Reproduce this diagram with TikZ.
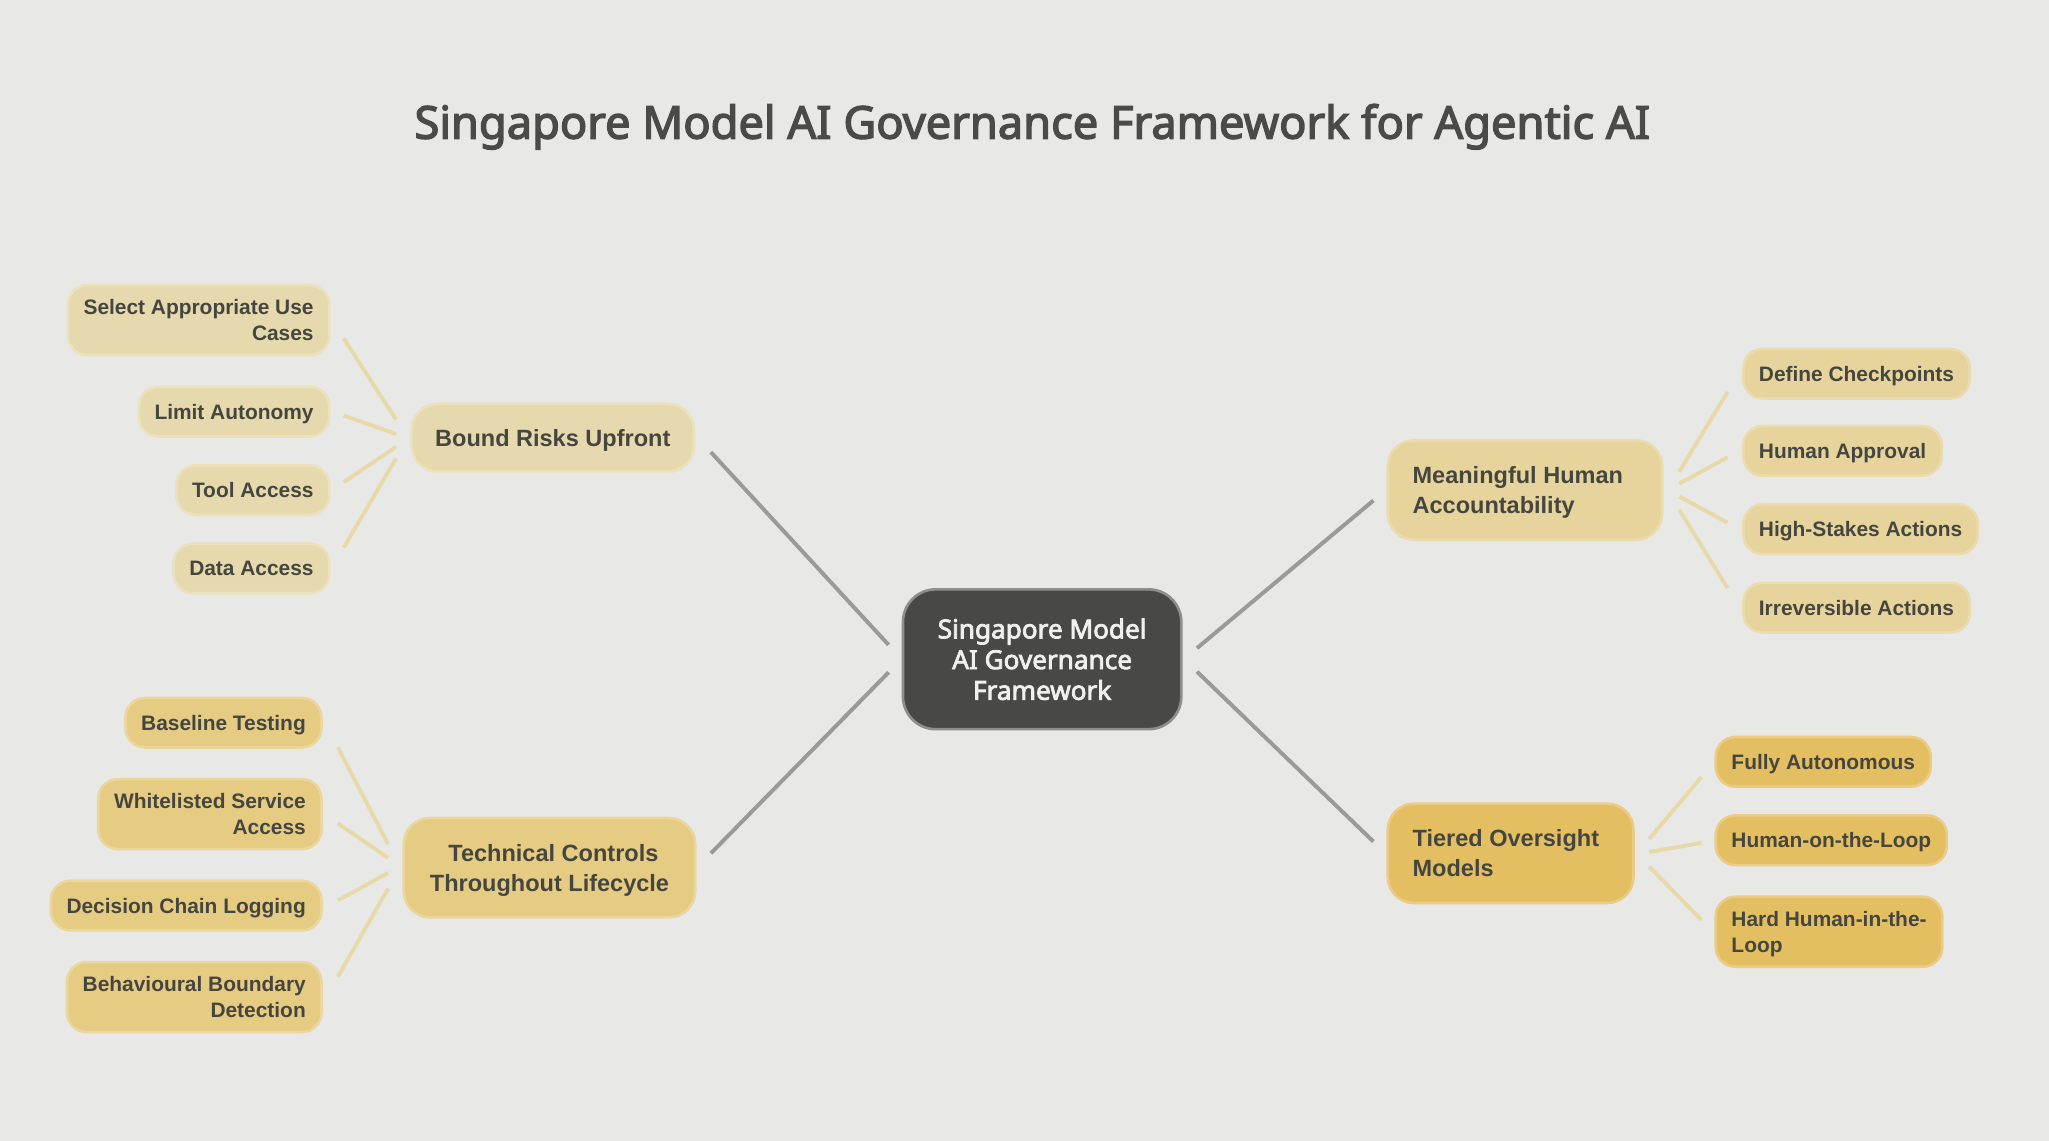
\documentclass[tikz,border=0pt]{standalone}
\usepackage{fontspec}
\setmainfont{Liberation Sans}
\newfontfamily\notosansbold{Noto Sans}[FakeBold=3]
\usetikzlibrary{calc}
\definecolor{bg}{HTML}{E8E8E6}
\definecolor{titlec}{HTML}{4A4A46}
\definecolor{txt}{HTML}{45463F}
\definecolor{centerfill}{HTML}{484944}
\definecolor{centerdraw}{HTML}{8E8E8B}
\definecolor{centertxt}{HTML}{F0F0EC}
\definecolor{mainline}{HTML}{9A9A98}
\definecolor{subline}{HTML}{E8DAA8}
\definecolor{bfill}{HTML}{E6D9AD}\definecolor{bdraw}{HTML}{EBE1BD}
\definecolor{tfill}{HTML}{E6CB82}\definecolor{tdraw}{HTML}{EBD69E}
\definecolor{mfill}{HTML}{E6D49C}\definecolor{mdraw}{HTML}{EBDCB0}
\definecolor{ofill}{HTML}{E3BF62}\definecolor{odraw}{HTML}{EACC86}
\tikzset{
  leafbox/.style={rounded corners=15pt, draw, line width=2pt, text=txt,
    font=\bfseries\fontsize{16}{20}\selectfont, inner xsep=12pt, inner ysep=11pt, minimum height=38pt, text depth=0pt},
  branchbox/.style={rounded corners=20pt, draw, line width=2pt, text=txt,
    font=\bfseries\fontsize{18}{23}\selectfont, inner xsep=18pt, inner ysep=14pt, minimum height=52pt, text depth=0pt},
  bstyle/.style={fill=bfill, draw=bdraw},
  tstyle/.style={fill=tfill, draw=tdraw},
  mstyle/.style={fill=mfill, draw=mdraw},
  ostyle/.style={fill=ofill, draw=odraw},
  mainlink/.style={draw=mainline, line width=3pt},
  sublink/.style={draw=subline, line width=3pt},
}
\begin{document}
\begin{tikzpicture}[x=1pt,y=-1pt]
\fill[bg] (0,0) rectangle (1568,873);
\useasboundingbox (0,0) rectangle (1568,873);

\node[font=\notosansbold\fontsize{34.6}{40}\selectfont, text=titlec] (title) at (790,97)
  {Singapore Model AI Governance Framework for Agentic AI};

% center
\node[rounded corners=25pt, fill=centerfill, draw=centerdraw, line width=2pt, text=centertxt,
  font=\notosansbold\fontsize{20}{23.5}\selectfont, align=center,
  minimum width=213pt, minimum height=107pt] (center) at (797.5,504.5)
  {Singapore Model\\AI Governance\\ Framework};

% branches
\node[branchbox, bstyle, minimum width=216pt] (bound) at (423,335) {Bound Risks Upfront};
\node[branchbox, tstyle, align=center, minimum width=223pt, minimum height=76pt] (tech) at (420.5,664)
  {\hspace*{6pt}Technical Controls\\Throughout Lifecycle};
\node[branchbox, mstyle, align=left, inner xsep=19pt, minimum height=76pt] (mean) at (1167,375)
  {\makebox[172pt][l]{Meaningful Human}\\Accountability};
\node[branchbox, ostyle, align=left, inner xsep=19pt, minimum height=76pt] (tier) at (1156,653)
  {\makebox[150pt][l]{Tiered Oversight}\\Models};

% Bound leaves
\node[leafbox, bstyle, anchor=east, align=right] (sel) at (253,245) {Select Appropriate Use\\Cases};
\node[leafbox, bstyle, anchor=east] (lim) at (253,315) {Limit Autonomy};
\node[leafbox, bstyle, anchor=east] (tool) at (253,375) {Tool Access};
\node[leafbox, bstyle, anchor=east] (data) at (253,435) {Data Access};

% Technical leaves
\node[leafbox, tstyle, anchor=east] (base) at (247,553) {Baseline Testing};
\node[leafbox, tstyle, anchor=east, align=right] (white) at (247,623) {Whitelisted Service\\Access};
\node[leafbox, tstyle, anchor=east] (dec) at (247,693) {Decision Chain Logging};
\node[leafbox, tstyle, anchor=east, align=right] (beh) at (247,763) {Behavioural Boundary\\Detection};

% Meaningful leaves
\node[leafbox, mstyle, anchor=west] (def) at (1333,286) {Define Checkpoints};
\node[leafbox, mstyle, anchor=west] (hum) at (1333,345) {Human Approval};
\node[leafbox, mstyle, anchor=west] (high) at (1333,405) {High-Stakes Actions};
\node[leafbox, mstyle, anchor=west] (irr) at (1333,465) {Irreversible Actions};

% Tiered leaves
\node[leafbox, ostyle, anchor=west] (fully) at (1312,583) {Fully Autonomous};
\node[leafbox, ostyle, anchor=west] (hotl) at (1312,643) {Human-on-the-Loop};
\node[leafbox, ostyle, anchor=west, align=left] (hard) at (1312,713) {Hard Human-in-the-\\Loop};

% main connectors
\draw[mainlink] ($(center.west)+(-10,-11)$) -- ($(bound.east)+(12,11)$);
\draw[mainlink] ($(center.west)+(-10,10)$) -- ($(tech.east)+(11,-11)$);
\draw[mainlink] ($(center.east)+(11,-8.5)$) -- ($(mean.west)+(-10,8)$);
\draw[mainlink] ($(center.east)+(11,9.5)$) -- ($(tier.west)+(-10,-9)$);

% bound leaf connectors
\draw[sublink] ($(sel.east)+(10,14)$) -- ($(bound.west)+(-11,-14)$);
\draw[sublink] ($(lim.east)+(10,3)$) -- ($(bound.west)+(-11,-3)$);
\draw[sublink] ($(tool.east)+(10,-6)$) -- ($(bound.west)+(-11,7)$);
\draw[sublink] ($(data.east)+(10,-16)$) -- ($(bound.west)+(-11,16)$);

% technical leaf connectors
\draw[sublink] ($(base.east)+(11.5,19)$) -- ($(tech.west)+(-11,-18)$);
\draw[sublink] ($(white.east)+(11.5,7)$) -- ($(tech.west)+(-11,-7.5)$);
\draw[sublink] ($(dec.east)+(11.5,-4)$) -- ($(tech.west)+(-11,4)$);
\draw[sublink] ($(beh.east)+(11.5,-15.5)$) -- ($(tech.west)+(-11,16)$);

% meaningful leaf connectors
\draw[sublink] ($(mean.east)+(12,-14)$) -- ($(def.west)+(-11,14)$);
\draw[sublink] ($(mean.east)+(12,-5)$) -- ($(hum.west)+(-11,5)$);
\draw[sublink] ($(mean.east)+(12,5)$) -- ($(high.west)+(-11,-5)$);
\draw[sublink] ($(mean.east)+(12,15)$) -- ($(irr.west)+(-11,-15)$);

% tiered leaf connectors
\draw[sublink] ($(tier.east)+(11,-11)$) -- ($(fully.west)+(-10,11.6)$);
\draw[sublink] ($(tier.east)+(11,-1)$) -- ($(hotl.west)+(-10,2)$);
\draw[sublink] ($(tier.east)+(11,10)$) -- ($(hard.west)+(-10,-9)$);
\end{tikzpicture}
\end{document}
